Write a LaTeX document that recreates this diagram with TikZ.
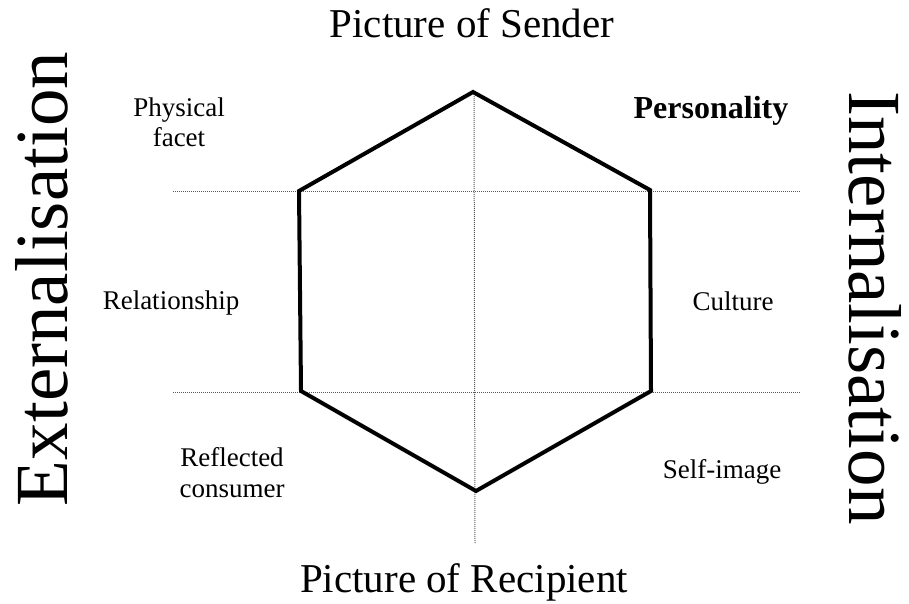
\documentclass[tikz,border=0pt]{standalone}
\usepackage{fontspec}
\setmainfont{Liberation Serif}
\begin{document}
\begin{tikzpicture}[x=1pt,y=-1pt,
  lbl/.style={inner sep=0pt,anchor=base,font=\fontsize{27}{31}\selectfont,align=center},
  ttl/.style={inner sep=0pt,anchor=base,font=\fontsize{41}{48}\selectfont},
  side/.style={inner sep=0pt,font=\fontsize{75}{80}\selectfont},
  guide/.style={draw=black!65,line width=1pt,dash pattern=on 1pt off 1pt},
  hex/.style={draw=black,line width=4pt,line join=miter}]
\useasboundingbox (0,0) rectangle (909,604);
% hexagon corners
\coordinate (T) at (473,92);
\coordinate (UR) at (650,190);
\coordinate (LR) at (651,391);
\coordinate (B) at (476,491);
\coordinate (LL) at (301,391);
\coordinate (UL) at (299,191);
% guide ends
\coordinate (h1l) at (173,191);
\coordinate (h1r) at (800,191);
\coordinate (h2l) at (173,392);
\coordinate (h2r) at (800,392);
\coordinate (vt) at (474,92);
\coordinate (vb) at (475,544);
\draw[guide] (h1l) -- (h1r);
\draw[guide] (h2l) -- (h2r);
\draw[guide] (vt) -- (vb);
\draw[hex] (T) -- (UR) -- (LR) -- (B) -- (LL) -- (UL) -- cycle;
% titles
\node[ttl] (sender) at (472,38) {Picture of Sender};
\node[ttl] (recip) at (464,592) {Picture of Recipient};
\node[side,rotate=90,anchor=base] (ext) at (67,279) {Externalisation};
\node[side,rotate=-90,anchor=base] (int) at (849,308) {Internalisation};
% labels
\node[lbl] (phys) at (179,117) {Physical};
\node[lbl] (facet) at (179,147) {facet};
\node[lbl,font=\fontsize{32}{36}\selectfont\bfseries] (pers) at (711,119) {Personality};
\node[lbl] (rel) at (171,309) {Relationship};
\node[lbl] (cult) at (733,310) {Culture};
\node[lbl] (refl) at (232,466) {Reflected};
\node[lbl] (cons) at (232,497) {consumer};
\node[lbl] (self) at (722,478) {Self-image};
\end{tikzpicture}
\end{document}
